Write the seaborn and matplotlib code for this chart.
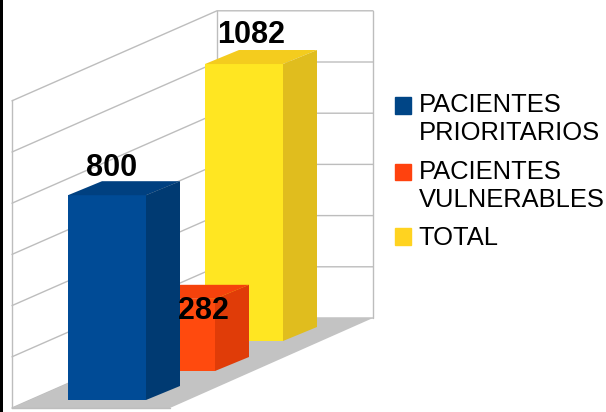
import matplotlib
matplotlib.use("Agg")
import matplotlib.pyplot as plt
from matplotlib.patches import Patch
import seaborn as sns

# data
categories = ["PACIENTES\nPRIORITARIOS", "PACIENTES\nVULNERABLES", "TOTAL"]
values = [800, 282, 1082]
grid_values = [0, 200, 400, 600, 800, 1000, 1200]

# colours: front, top, side, legend
front_colors = ["#004b96", "#ff4a0e", "#ffe622"]
top_colors = ["#004080", "#f5420c", "#f4cc1e"]
side_colors = ["#003a72", "#e03c08", "#e0bd1e"]
legend_colors = ["#004586", "#ff420e", "#ffd320"]

sns.set_theme(style="white")
plt.rcParams["font.family"] = ["Liberation Sans", "DejaVu Sans"]

W, H = 606, 412
PX = 0.256  # pixels per unit


def val(ypx):
    # pixel row to value units, measured on the back wall
    return (318 - ypx) / PX


fig = plt.figure(figsize=(W / 100, H / 100), dpi=100)
ax = fig.add_axes([0, 0, 1, 1])

# walls
line_c = "#bdbdbd"
for g in grid_values:
    ax.plot([12, 217, 373], [g - 90 / PX, g, g], color=line_c, lw=1.0, zorder=1)
ax.plot([12, 12], [val(408), val(100)], color=line_c, lw=1.0, zorder=1)
ax.plot([217, 217], [0, 1200], color=line_c, lw=1.0, zorder=1)
ax.plot([373, 373], [0, 1200], color=line_c, lw=1.0, zorder=1)

# floor
ax.fill([12, 217, 373, 170], [val(408), val(318), val(318), val(408)], color="#c3c3c3", lw=0, zorder=2)
ax.plot([12, 170], [val(408), val(408)], color=line_c, lw=1.0, zorder=2)

# bars, back to front
lefts = [68, 137, 205]
bases = [val(400), val(371), val(341)]
depth_x, depth_y = 34, 14 / PX
label_pos = [(112, 168), (203, 311), (251, 35)]

for i in [2, 1, 0]:
    z = 5 + (2 - i)
    x0, b, v = lefts[i], bases[i], values[i]
    x1 = x0 + 78
    sns.barplot(x=[x0 + 39], y=[v], bottom=b, native_scale=True, width=78,
                color=front_colors[i], saturation=1, ax=ax, zorder=z, linewidth=0)
    ax.fill([x0, x1, x1 + depth_x, x0 + depth_x],
            [b + v, b + v, b + v + depth_y, b + v + depth_y],
            color=top_colors[i], lw=0, zorder=z)
    ax.fill([x1, x1 + depth_x, x1 + depth_x, x1],
            [b, b + depth_y, b + v + depth_y, b + v],
            color=side_colors[i], lw=0, zorder=z)

# value labels
for i in range(3):
    ax.text(label_pos[i][0], val(label_pos[i][1]), str(values[i]), fontsize=22,
            fontweight="bold", color="black", ha="center", va="center", zorder=10)

# black strip on the left edge
ax.axvspan(0, 3, color="black", lw=0, zorder=11)

ax.set_xlim(0, W)
ax.set_ylim(val(H), val(0))
ax.axis("off")

# legend
handles = [Patch(color=c) for c in legend_colors]
leg = ax.legend(handles, categories, loc="upper left", bbox_to_anchor=(395 / W, 1 - 93 / H),
                frameon=False, fontsize=18.4, handlelength=0.63, handleheight=0.63,
                handletextpad=0.3, labelspacing=0.57, borderpad=0, borderaxespad=0)
for t in leg.get_texts():
    t.set_linespacing(1.22)
    t.set_color("black")

# squares sit on the first line of the two line entries
for h in leg.legend_handles[:2]:
    h.set_y(h.get_y() + 10.4)

fig.savefig("out.png", dpi=100)
